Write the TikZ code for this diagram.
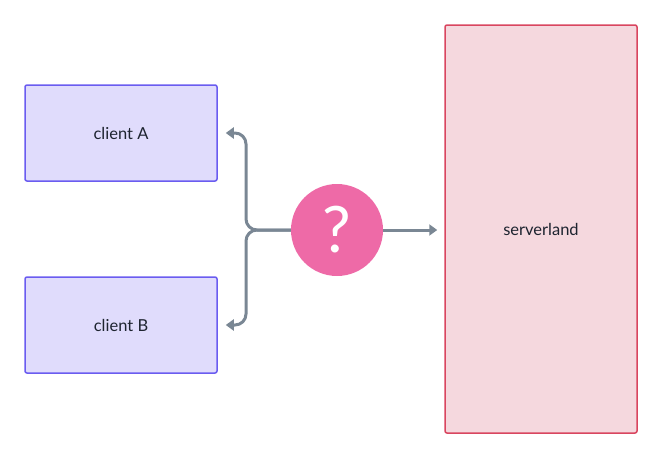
\documentclass[tikz,border=0pt]{standalone}
\usepackage{fontspec}
\setmainfont{Lato}
\usetikzlibrary{arrows.meta,calc}
\definecolor{clientfill}{HTML}{E0DCFC}
\definecolor{clientline}{HTML}{6A5CF0}
\definecolor{serverfill}{HTML}{F5D8DE}
\definecolor{serverline}{HTML}{D9455F}
\definecolor{askpink}{HTML}{EE6AA7}
\definecolor{wire}{HTML}{7A8794}
\definecolor{ink}{HTML}{1E2430}
\tikzstyle{client}=[draw=clientline,fill=clientfill,line width=1.5pt,rounded corners=2pt,minimum width=192pt,minimum height=96pt,inner sep=0pt,text=ink,font=\fontsize{16.5}{20}\selectfont]
\tikzstyle{server}=[draw=serverline,fill=serverfill,line width=1.5pt,rounded corners=2pt,minimum width=192pt,minimum height=408pt,inner sep=0pt,text=ink,font=\fontsize{16.5}{20}\selectfont]
\tikzstyle{ask}=[circle,fill=askpink,minimum size=92pt,inner sep=0pt,text=white,font=\fontsize{64}{70}\selectfont]
\tikzstyle{wireedge} = [draw=wire,line width=3pt,rounded corners=11pt,-{Triangle[length=8pt,width=11pt]}]

\begin{document}
\begin{tikzpicture}[x=1pt,y=-1pt]
    \useasboundingbox (0,0) rectangle (662,458);
    % the two clients on the left
    \foreach \pos/ \name/ \txt in {{(121,133)/ca/client A},{(121,325)/cb/client B}}
        \node[client] (\name) at \pos {\txt};

    % the server and the question
    \node[server] (srv) at (541,229) {serverland};
    \node[ask] (q) at (337,230) {?};

    % connect them
    \coordinate (j) at (246,230);
    \path[wireedge,shorten >=8pt] (q.west) -- (j) |- (ca.east);
    \path[wireedge,shorten >=8pt] (q.west) -- (j) |- (cb.east);
    \path[wireedge,shorten >=7pt] (q.east) -- (srv.west |- q.east);
\end{tikzpicture}
\end{document}
